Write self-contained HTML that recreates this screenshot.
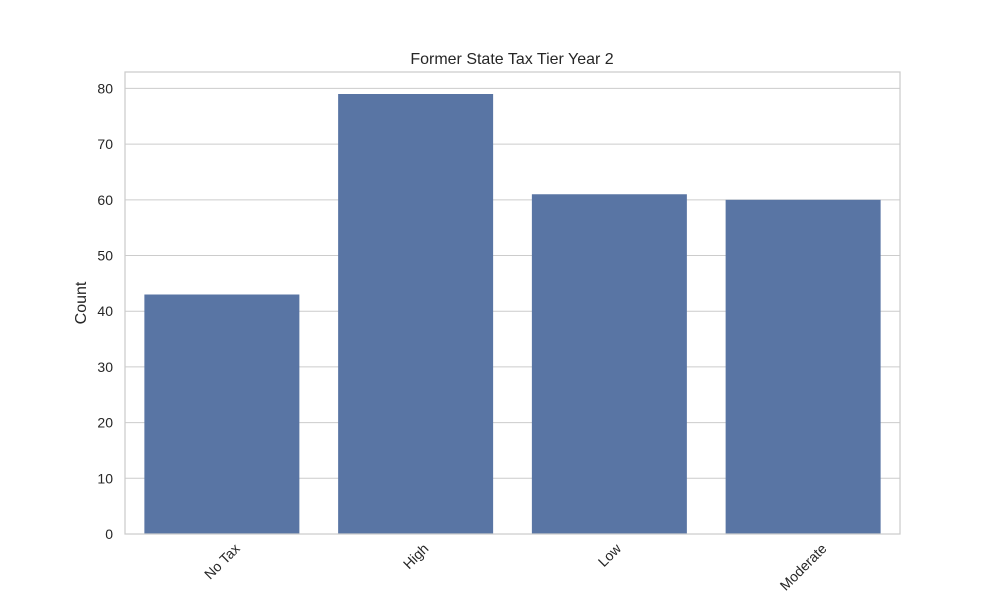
<!DOCTYPE html>
<html><head><meta charset="utf-8"><style>
html,body{margin:0;padding:0;background:#fff;}
svg{display:block;font-family:"Liberation Sans","DejaVu Sans",sans-serif;}
</style></head><body>
<svg id="chart" width="1000" height="600" viewBox="0 0 1000 600">
<rect width="1000" height="600" fill="#fff"/>
<g id="grid"></g><g id="bars"></g><g id="axes"></g>
<text x="512" y="64" text-anchor="middle" font-size="16" fill="#262626">Former State Tax Tier Year 2</text>
<text transform="translate(86,303) rotate(-90)" text-anchor="middle" font-size="16" fill="#262626">Count</text>
</svg>
<script>
const categories = ["No Tax", "High", "Low", "Moderate"];
const counts = [43, 79, 61, 60];
const yTicks = [0, 10, 20, 30, 40, 50, 60, 70, 80];
const NS = "http://www.w3.org/2000/svg";
const L = 125, R = 900, T = 72, B = 534;
const yMax = Math.max(...counts) * 1.05;
const y = v => B - v / yMax * (B - T);
const band = (R - L) / categories.length;
const xc = i => L + band * (i + 0.5);
function mk(tag, attrs, parent) {
  const e = document.createElementNS(NS, tag);
  for (const k in attrs) e.setAttribute(k, attrs[k]);
  parent.appendChild(e);
  return e;
}
const grid = document.getElementById("grid"), bars = document.getElementById("bars"), axes = document.getElementById("axes");
yTicks.forEach(t => {
  const g = mk("line", {x1: L, x2: R, y1: y(t), y2: y(t), stroke: "#cccccc", "stroke-width": 1}, grid);
  
  
  const lb = mk("text", {x: L - 12, y: y(t) + 5, "text-anchor": "end", "font-size": 14, fill: "#262626"}, axes);
  lb.textContent = t;
  
  
});
categories.forEach((c, i) => {
  const w = band * 0.8;
  const b = mk("rect", {x: xc(i) - w / 2, y: y(counts[i]), width: w, height: B - y(counts[i]), fill: "#5975a4"}, bars);
  
  
  const lb = mk("text", {"text-anchor": "middle", "font-size": 14, fill: "#262626"}, axes);
  lb.textContent = c;
  const tw = lb.getComputedTextLength();
  const h = 14;
  const cy = B + 7 + (tw + h) * 0.7071 / 2;
  lb.setAttribute("transform", `translate(${xc(i)},${cy}) rotate(-45) translate(0,5)`);
  
  
});
const frame = mk("rect", {x: L, y: T, width: R - L, height: B - T, fill: "none", stroke: "#cccccc", "stroke-width": 1.25}, axes);


</script>
</body></html>
